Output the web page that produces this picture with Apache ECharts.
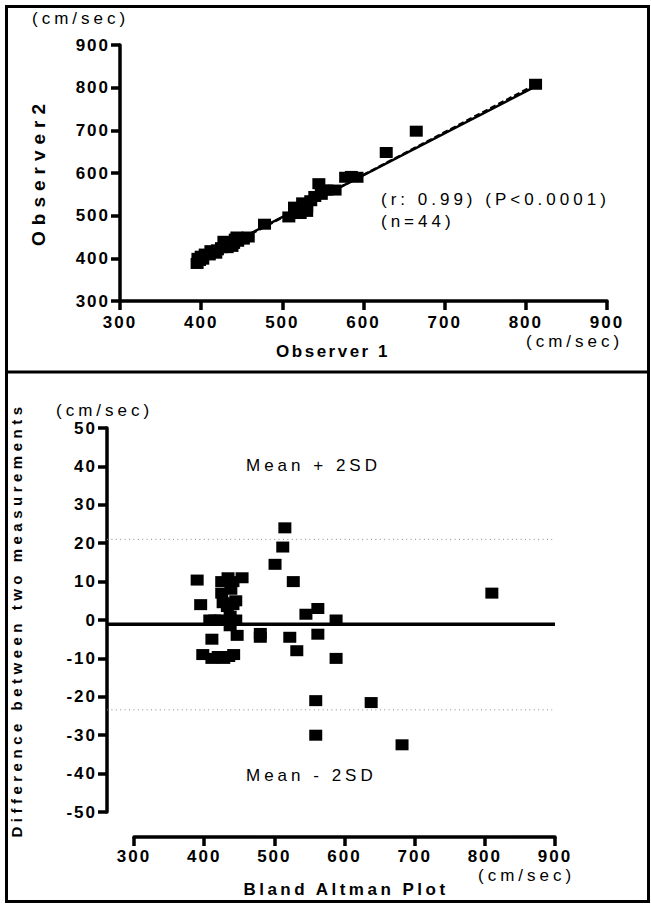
<!DOCTYPE html>
<html><head><meta charset="utf-8">
<script src="https://cdn.jsdelivr.net/npm/echarts@6/dist/echarts.min.js"></script>
<style>html,body{margin:0;padding:0;background:#fff}#c{width:651px;height:907px}</style>
</head><body><div id="c"></div>
<script>
// Top: Observer 1 vs Observer 2 (cm/sec)
const observer1 = [395,396,398,400,402,405,410,412,415,418,420,425,428,430,432,435,438,440,442,444,445,448,452,458,478,508,515,522,525,530,530,535,540,545,548,550,555,565,578,585,592,628,665,812];
const observer2 = [388,400,395,405,398,410,408,418,415,412,420,425,440,430,425,438,428,435,445,450,440,448,445,450,480,497,520,505,530,520,510,535,545,575,550,560,560,560,590,592,590,648,698,808];
const regSolid = [[393,392],[815,806]];
const regDashed = [[393,389],[815,810]];
// Bottom: Bland Altman (mean, difference)
const baMean = [390,395,398,408,411,411,415,420,423,425,425,427,428,433,434,435,437,437,438,441,441,442,445,445,447,454,480,480,501,512,515,522,527,532,545,559,559,562,562,588,588,638,682,810];
const baDiff = [10.4,4,-9,0,-5,-10,0,-9.5,0,10,7,4.5,-10,3.5,11,-9.5,1,-1.5,8,4,10,-9,0,5,-4,11,-3.5,-4.5,14.5,19,24,-4.5,10,-8,1.5,-21,-30,-3.7,3,0,-10,-21.5,-32.5,7];
const meanDiff = -1.1;
const upperLimit = 21;
const lowerLimit = -23.4;

const FONT = 'Liberation Sans, Arial, sans-serif';
const chart = echarts.init(document.getElementById('c'), null, {renderer:'svg'});
const axisLine = {show:true, lineStyle:{color:'#000', width:3.5}};
const axisTick = {show:true, length:9, lineStyle:{color:'#000', width:3.5}};
const tickLabel = {color:'#000', fontWeight:'bold', fontSize:17, fontFamily:FONT};

const topPts = observer1.map((v,i)=>[v, observer2[i]]);
const baPts = baMean.map((v,i)=>[v, baDiff[i]]);
const xLo = 261.5;

chart.setOption({
  animation:false,
  backgroundColor:'#fff',
  grid:[
    {left:120, right:44, top:45, bottom:606},
    {left:107, right:96, top:428, bottom:95},
    {left:134, right:96, top:836, height:1}
  ],
  xAxis:[
    {gridIndex:0, type:'value', min:300, max:900, interval:100, axisLine, axisTick,
     axisLabel:Object.assign({margin:13}, tickLabel), splitLine:{show:false}},
    {gridIndex:1, type:'value', min:xLo, max:900, show:false},
    {gridIndex:2, type:'value', min:300, max:900, interval:100, position:'bottom', axisLine, axisTick,
     axisLabel:Object.assign({margin:11}, tickLabel), splitLine:{show:false}}
  ],
  yAxis:[
    {gridIndex:0, type:'value', min:300, max:900, interval:100, axisLine, axisTick,
     axisLabel:Object.assign({margin:10}, tickLabel), splitLine:{show:false}},
    {gridIndex:1, type:'value', min:-50, max:50, interval:10, axisLine, axisTick,
     axisLabel:Object.assign({margin:10}, tickLabel), splitLine:{show:false}},
    {gridIndex:2, type:'value', show:false}
  ],
  series:[
    {type:'line', xAxisIndex:0, yAxisIndex:0, data:regSolid, symbol:'none', lineStyle:{color:'#000', width:2.5}, z:3},
    {type:'line', xAxisIndex:0, yAxisIndex:0, data:regDashed, symbol:'none', lineStyle:{color:'#000', width:2.5, type:[6,3]}, z:3},
    {type:'scatter', xAxisIndex:0, yAxisIndex:0, data:topPts, symbol:'rect', symbolSize:[13,11], itemStyle:{color:'#000', opacity:1}, z:4},
    {type:'line', xAxisIndex:1, yAxisIndex:1, data:[[xLo,meanDiff],[900,meanDiff]], symbol:'none', lineStyle:{color:'#000', width:3.5}, z:3},
    {type:'line', xAxisIndex:1, yAxisIndex:1, data:[[xLo,upperLimit],[896,upperLimit]], symbol:'none', lineStyle:{color:'#888', width:1, type:[1,3.4]}, z:3},
    {type:'line', xAxisIndex:1, yAxisIndex:1, data:[[xLo,lowerLimit],[896,lowerLimit]], symbol:'none', lineStyle:{color:'#888', width:1, type:[1,3.4]}, z:3},
    {type:'scatter', xAxisIndex:1, yAxisIndex:1, data:baPts, symbol:'rect', symbolSize:[13,11], itemStyle:{color:'#000', opacity:1}, z:4}
  ],
  graphic:[
    {type:'rect', shape:{x:6.5, y:6.5, width:642, height:895}, style:{fill:'none', stroke:'#000', lineWidth:3}, z:10},
    {type:'rect', shape:{x:5, y:370.5, width:645, height:3}, style:{fill:'#000'}, z:10},
    {type:'text', x:32, y:18, style:{text:'(cm/sec)', font:'17px '+FONT, fill:'#000', align:'left', verticalAlign:'middle'}},
    {type:'text', x:526, y:341, style:{text:'(cm/sec)', font:'17px '+FONT, fill:'#000', align:'left', verticalAlign:'middle'}},
    {type:'text', x:333, y:351, style:{text:'Observer 1', font:'bold 17px '+FONT, fill:'#000', align:'center', verticalAlign:'middle'}},
    {type:'text', x:38, y:172, rotation:Math.PI/2, style:{text:'Observer2', font:'bold 19px '+FONT, fill:'#000', align:'center', verticalAlign:'middle'}},
    {type:'text', x:381, y:199, style:{text:'(r: 0.99) (P<0.0001)', font:'17px '+FONT, fill:'#000', align:'left', verticalAlign:'middle'}},
    {type:'text', x:381, y:221, style:{text:'(n=44)', font:'17px '+FONT, fill:'#000', align:'left', verticalAlign:'middle'}},
    {type:'text', x:56, y:410, style:{text:'(cm/sec)', font:'17px '+FONT, fill:'#000', align:'left', verticalAlign:'middle'}},
    {type:'text', x:16, y:620, rotation:Math.PI/2, style:{text:'Difference between two measurements', font:'bold 15px '+FONT, fill:'#000', align:'center', verticalAlign:'middle'}},
    {type:'text', x:246, y:465, style:{text:'Mean + 2SD', font:'17px '+FONT, fill:'#000', align:'left', verticalAlign:'middle'}},
    {type:'text', x:246, y:775, style:{text:'Mean - 2SD', font:'17px '+FONT, fill:'#000', align:'left', verticalAlign:'middle'}},
    {type:'text', x:478, y:875, style:{text:'(cm/sec)', font:'17px '+FONT, fill:'#000', align:'left', verticalAlign:'middle'}},
    {type:'text', x:346, y:889, style:{text:'Bland Altman Plot', font:'bold 17px '+FONT, fill:'#000', align:'center', verticalAlign:'middle'}}
  ]
});

// Letter spacing similar to the original graph's spaced lettering
const spacing = {
  '(cm/sec)':4, '(r: 0.99) (P<0.0001)':4, '(n=44)':4, 'Mean + 2SD':4, 'Mean - 2SD':4,
  'Observer 1':2.5, 'Bland Altman Plot':3.5, 'Observer2':6, 'Difference between two measurements':4.5
};
function applySpacing(){
  document.querySelectorAll('#c svg text').forEach(t=>{
    const s = t.textContent;
    let ls = spacing[s];
    if (ls === undefined && /^-?\d+$/.test(s)) ls = 2;
    if (ls !== undefined) t.style.letterSpacing = ls + 'px';
  });
}
applySpacing();
chart.on('finished', applySpacing);
setTimeout(applySpacing, 50);
</script></body></html>
